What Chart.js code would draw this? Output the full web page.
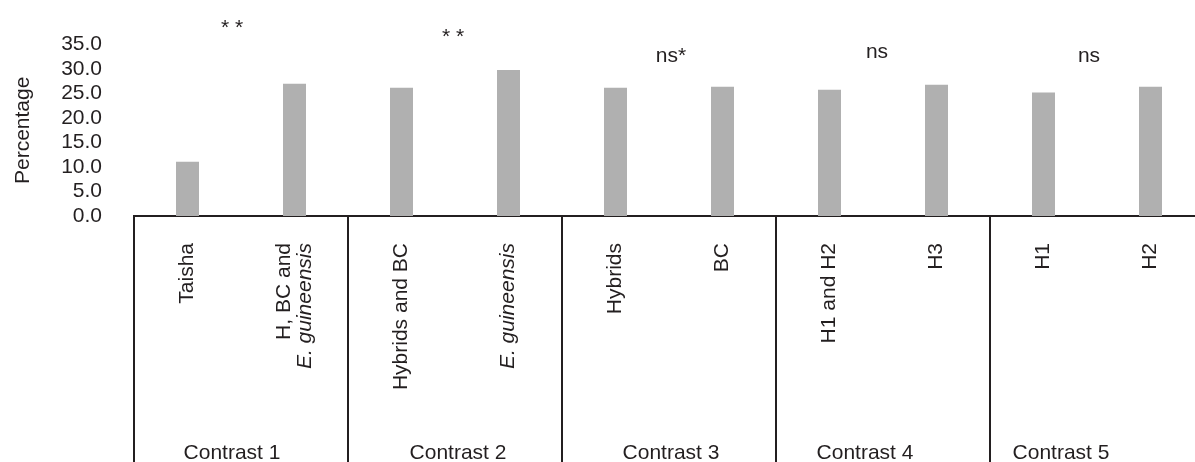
<!DOCTYPE html>
<html lang="en">
<head>
<meta charset="UTF-8" />
<title>Percentage by contrast</title>
<script src="https://cdn.jsdelivr.net/npm/chart.js@4.4.0/dist/chart.umd.min.js"></script>
<style>
  html, body { margin: 0; padding: 0; background: #fff; overflow: hidden; }
  #wrap { width: 1204px; height: 462px; }
</style>
</head>
<body>
<div id="wrap"><canvas id="myChart" width="1204" height="462"></canvas></div>
<script>
// one bar per genotype group, two per contrast
var categories = ['Taisha', ['H, BC and', 'E. guineensis'], 'Hybrids and BC', 'E. guineensis',
                  'Hybrids', 'BC', 'H1 and H2', 'H3', 'H1', 'H2'];
var percentages = [11.1, 27.0, 26.2, 29.8, 26.2, 26.4, 25.8, 26.8, 25.2, 26.4];
var contrasts = ['Contrast 1', 'Contrast 2', 'Contrast 3', 'Contrast 4', 'Contrast 5'];
var significance = ['* *', '* *', 'ns*', 'ns', 'ns'];
var yTickLabels = ['0.0', '5.0', '10.0', '15.0', '20.0', '25.0', '30.0', '35.0'];
var italicNames = ['E. guineensis'];

var family = "'Liberation Sans', Arial, sans-serif";
var fontSize = 21;
var ink = '#231f20';

Chart.defaults.font.family = family;
Chart.defaults.font.size = fontSize;
Chart.defaults.color = ink;

// labels under the axis, boxes for each contrast and the significance marks
var contrastBoxes = {
    id: 'contrastBoxes',
    afterDraw: function (chart, args, opts) {
        var ctx = chart.ctx;
        var x = chart.scales.x;
        var area = chart.chartArea;
        var step = x.getPixelForValue(1) - x.getPixelForValue(0);
        ctx.save();
        ctx.fillStyle = ink;

        categories.forEach(function (label, i) {
            var lines = [].concat(label);
            ctx.save();
            ctx.translate(x.getPixelForValue(i), opts.labelTop);
            ctx.rotate(-Math.PI / 2);
            ctx.textAlign = 'right';
            ctx.textBaseline = 'middle';
            lines.forEach(function (line, j) {
                var it = italicNames.indexOf(line) >= 0;
                ctx.font = (it ? 'italic ' : '') + fontSize + 'px ' + family;
                ctx.fillText(line, 0, (j - (lines.length - 1) / 2) * 21);
            });
            ctx.restore();
        });

        ctx.strokeStyle = ink;
        ctx.lineWidth = 2;
        for (var g = 0; g <= contrasts.length; g++) {
            var gx = Math.round(x.getPixelForValue(2 * g) - step / 2);
            ctx.beginPath();
            ctx.moveTo(gx, area.bottom);
            ctx.lineTo(gx, chart.height);
            ctx.stroke();
        }

        ctx.font = fontSize + 'px ' + family;
        ctx.textAlign = 'center';
        ctx.textBaseline = 'alphabetic';
        contrasts.forEach(function (name, g) {
            var mid = x.getPixelForValue(2 * g) + step / 2;
            ctx.fillText(name, mid + opts.groupShift[g], opts.groupBaseline);
            ctx.fillText(significance[g], mid + opts.sigShift[g], opts.sigBaseline[g]);
        });
        ctx.restore();
    }
};

var ctx = document.getElementById('myChart').getContext('2d');
var myChart = new Chart(ctx, {
    type: 'bar',
    data: {
        labels: categories.map(function (c) { return [].concat(c).join(' '); }),
        datasets: [{
            label: 'Percentage',
            data: percentages,
            backgroundColor: '#b0b0b0',
            borderWidth: 0,
            barPercentage: 0.215,
            categoryPercentage: 1
        }]
    },
    options: {
        responsive: false,
        animation: false,
        events: [],
        layout: { padding: { top: 40, left: 0, right: 0, bottom: 0 } },
        plugins: {
            legend: { display: false },
            tooltip: { enabled: false },
            contrastBoxes: {
                labelTop: 243,
                groupBaseline: 459,
                groupShift: [-9, 3, 2, -18, -36],
                sigShift: [-9, -2, 2, -6, -8],
                sigBaseline: [34, 43, 62, 58, 62]
            }
        },
        scales: {
            x: {
                z: 1,
                grid: { display: false },
                border: { display: true, color: ink, width: 2 },
                ticks: { display: false },
                afterFit: function (scale) { scale.height = 246; }
            },
            y: {
                min: 0,
                max: 35,
                grid: { display: false, drawTicks: false },
                border: { display: false },
                ticks: {
                    stepSize: 5,
                    autoSkip: false,
                    padding: 32,
                    color: ink,
                    callback: function (v) { return yTickLabels[Math.round(v / 5)]; }
                },
                title: {
                    display: true,
                    text: 'Percentage',
                    color: ink,
                    padding: { top: 11, bottom: 0 }
                },
                afterFit: function (scale) { scale.width = 134; }
            }
        }
    },
    plugins: [contrastBoxes]
});
</script>
</body>
</html>
